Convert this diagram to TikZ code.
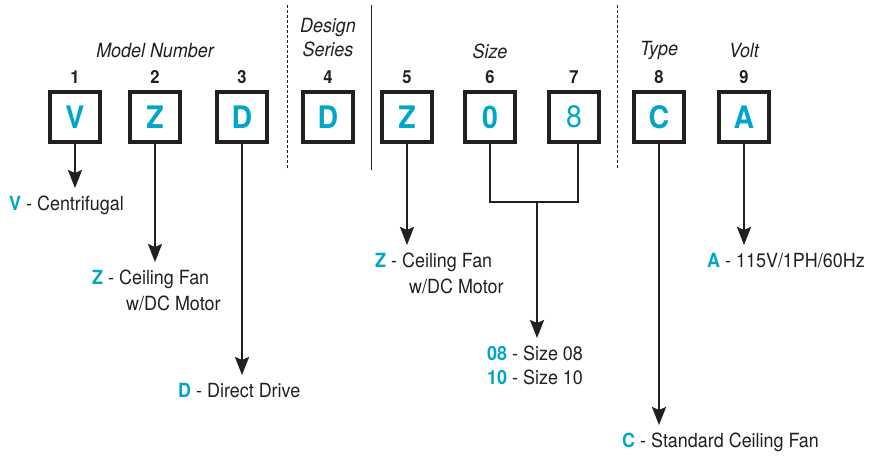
\documentclass[tikz,border=0pt]{standalone}
\usepackage{fontspec}
\setmainfont{TeX Gyre Heros}[FakeStretch=0.92]
\usetikzlibrary{calc,arrows.meta}

\definecolor{codecyan}{RGB}{0,166,200}
\definecolor{inkgray}{RGB}{35,31,32}
\newcommand{\code}[1]{\textcolor{codecyan}{\textbf{#1}}}

\tikzset{
  codebox/.style={draw=inkgray,line width=4pt,minimum size=50pt,inner sep=0pt,
    text=codecyan,font=\fontsize{31}{31}\selectfont\bfseries},
  digit/.style={font=\fontsize{18}{18}\selectfont\bfseries,text=inkgray},
  group/.style={font=\fontsize{19.5}{24}\selectfont\itshape,text=inkgray,align=center},
  desc/.style={anchor=north west,inner xsep=0pt,inner ysep=8pt,align=left,
    font=\fontsize{19.5}{26}\selectfont,text=inkgray},
  arr/.style={draw=inkgray,line width=2.5pt,-{Stealth[length=18pt,width=14pt,inset=3pt]}},
  link/.style={draw=inkgray,line width=2.5pt},
  divider/.style={draw=inkgray,line width=1pt}
}

\begin{document}
\begin{tikzpicture}[x=1pt,y=-1pt]
        \useasboundingbox (0,0) rectangle (869,456);
        % code boxes and position numbers
        \foreach \i/\x/\c in {1/75/V,2/155/Z,3/242/D,4/328/D,5/407/Z,6/490/0,7/574/\mdseries 8,8/659/C,9/744/A}{
          \node[codebox] (b\i) at (\x,117) {\c};
          \node[digit] (d\i) at (\x,77) {\i};
        }
        \node[group] (gmodel) at (155,51) {Model Number};
        \node[group] (gdesign) at (328,38) {Design\\Series};
        \node[group] (gsize) at (490,51) {Size};
        \node[group] (gtype) at (659,51) {Type};
        \node[group] (gvolt) at (744,51) {Volt};
        % separators
        \draw[divider,dashed,dash pattern=on 3pt off 2pt] (287,5) -- (287,170);
        \draw[divider] (371,5) -- (371,170);
        \draw[divider,dashed,dash pattern=on 3pt off 2pt] (617,5) -- (617,168);
        % descriptions
        \node[desc] (lv) at (9,188) {\code{V} - Centrifugal};
        \node[desc] (lz) at (92,262) {\code{Z} - Ceiling Fan\\\hspace*{34pt}w/DC Motor};
        \node[desc] (ld) at (178,375) {\code{D} - Direct Drive};
        \node[desc] (lz5) at (375,245) {\code{Z} - Ceiling Fan\\\hspace*{34pt}w/DC Motor};
        \node[desc,font=\fontsize{19.5}{24}\selectfont] (ls) at (487,338) {\code{08} - Size 08\\\code{10} - Size 10};
        \node[desc] (lc) at (622,425) {\code{C} - Standard Ceiling Fan};
        \node[desc] (la) at (707,245) {\code{A} - 115V/1PH/60Hz};
        % connectors
        \draw[arr] (b1.south) -- (b1.south |- lv.north);
        \draw[arr] (b2.south) -- (b2.south |- lz.north);
        \draw[arr] (b3.south) -- (b3.south |- ld.north);
        \draw[arr] (b5.south) -- (b5.south |- lz5.north);
        \coordinate (join) at (537,202);
        \draw[link] (b6.south) |- (join) -| ([xshift=4pt]b7.south);
        \draw[arr] (join) -- (join |- ls.north);
        \draw[arr] (b8.south) -- (b8.south |- lc.north);
        \draw[arr] (b9.south) -- (b9.south |- la.north);
      \end{tikzpicture}
\end{document}
